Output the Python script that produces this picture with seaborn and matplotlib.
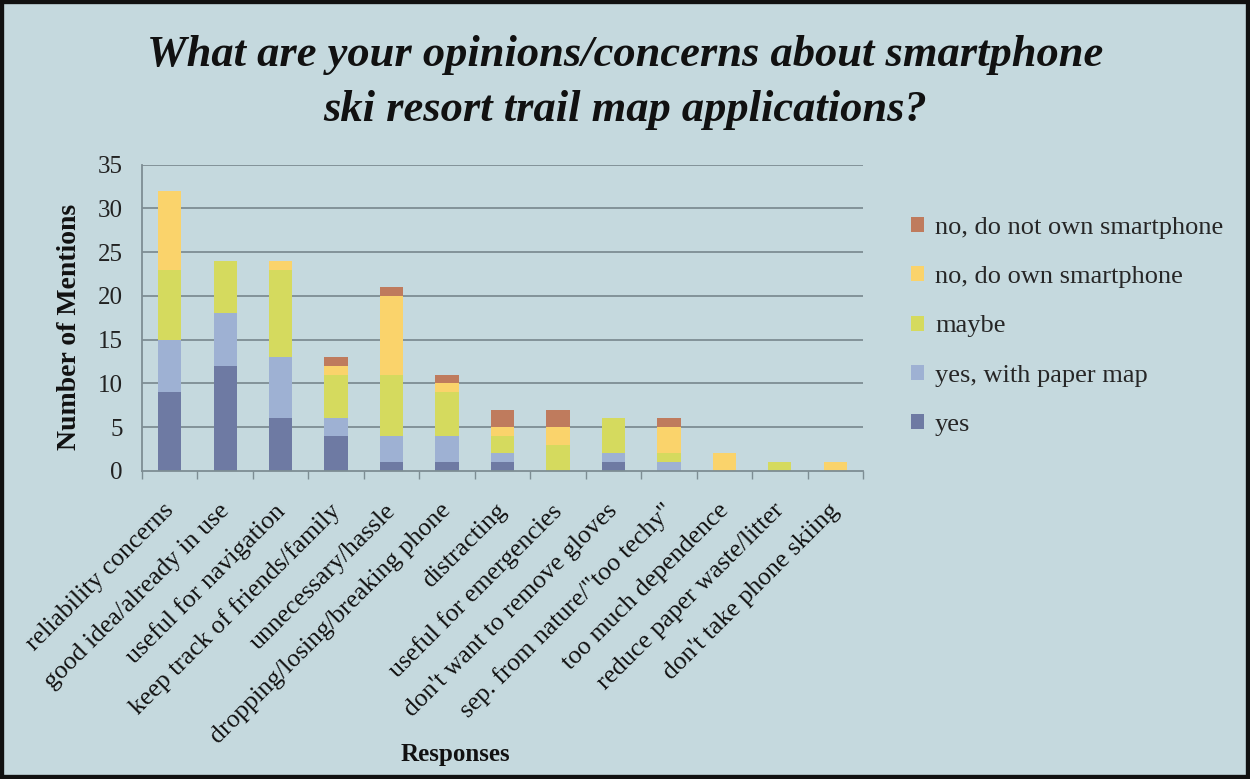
import matplotlib
matplotlib.use("Agg")
import matplotlib.pyplot as plt
from matplotlib.patches import Patch, Rectangle
from matplotlib.transforms import ScaledTranslation
import seaborn as sns
import pandas as pd
import numpy as np

# Survey responses (x categories)
categories = [
    "reliability concerns",
    "good idea/already in use",
    "useful for navigation",
    "keep track of friends/family",
    "unnecessary/hassle",
    "dropping/losing/breaking phone",
    "distracting",
    "useful for emergencies",
    "don't want to remove gloves",
    "sep. from nature/\"too techy\"",
    "too much dependence",
    "reduce paper waste/litter",
    "don't take phone skiing",
]

# Number of mentions per respondent group (stacked bottom to top)
yes = [9, 12, 6, 4, 1, 1, 1, 0, 1, 0, 0, 0, 0]
yes_paper_map = [6, 6, 7, 2, 3, 3, 1, 0, 1, 1, 0, 0, 0]
maybe = [8, 6, 10, 5, 7, 5, 2, 3, 4, 1, 0, 1, 0]
no_own_smartphone = [9, 0, 1, 1, 9, 1, 1, 2, 0, 3, 2, 0, 1]
no_not_own_smartphone = [0, 0, 0, 1, 1, 1, 2, 2, 0, 1, 0, 0, 0]

series_names = ["yes", "yes, with paper map", "maybe",
                "no, do own smartphone", "no, do not own smartphone"]
series_values = [yes, yes_paper_map, maybe, no_own_smartphone, no_not_own_smartphone]
series_colors = ["#6E7AA3", "#9EB1D3", "#D5DA5E", "#FAD36B", "#BF7B5D"]

y_ticks = [0, 5, 10, 15, 20, 25, 30, 35]

bg = "#C5D9DE"
grid_col = "#7D8D93"
serif = "Liberation Serif"

sns.set_theme(style="white")
plt.rcParams["font.family"] = [serif, "DejaVu Serif"]

# Long table with the cumulative height of each stack level
rows = []
cum = np.zeros(len(categories))
for name, vals in zip(series_names, series_values):
    cum = cum + np.array(vals, dtype=float)
    for cat, v, c in zip(categories, vals, cum):
        rows.append({"response": cat, "group": name, "value": v, "top": c})
df = pd.DataFrame(rows)

fig = plt.figure(figsize=(12.5, 7.79), dpi=100, facecolor=bg)
ax = fig.add_axes([0.1136, 0.3954, 0.5768, 0.3934], facecolor=bg)

for y in y_ticks[1:]:
    ax.axhline(y, color=grid_col, lw=1.3, zorder=0)

# Draw the stack from the top level down so each lower level covers the one above
for name, color in reversed(list(zip(series_names, series_colors))):
    sub = df[df["group"] == name]
    sns.barplot(data=sub, x="response", y="top", order=categories, color=color,
                saturation=1, width=0.42, errorbar=None, ax=ax, zorder=2,
                linewidth=0)

ax.set_ylim(0, 35)
ax.set_xlim(-0.5, len(categories) - 0.5)
ax.set_yticks(y_ticks)
ax.set_xticks(range(len(categories)))
ax.set_xticks(np.arange(-0.5, len(categories), 1.0), minor=True)
ax.tick_params(axis="x", which="major", length=0, pad=4)
ax.tick_params(axis="x", which="minor", length=6, width=1, color=grid_col,
               direction="out", bottom=True)
ax.tick_params(axis="y", which="major", length=6, width=1, color=grid_col,
               direction="out", pad=8)

ax.set_yticklabels([str(t) for t in y_ticks], fontsize=18, family=serif, color="#222222")
ax.set_xticklabels(categories, rotation=45, ha="right", va="top",
                   rotation_mode="anchor", fontsize=18.5, family=serif, color="#111111")
# Push the slanted category labels a little below the axis line
offset = ScaledTranslation(-7 / 100, -23 / 100, fig.dpi_scale_trans)
for lbl in ax.get_xticklabels():
    lbl.set_transform(lbl.get_transform() + offset)

for side in ["top", "right"]:
    ax.spines[side].set_visible(False)
for side in ["left", "bottom"]:
    ax.spines[side].set_color(grid_col)
    ax.spines[side].set_linewidth(1.3)

ax.set_xlabel("")
ax.set_ylabel("")
fig.text(0.056, 0.58, "Number of Mentions", rotation=90, ha="center", va="center",
         fontsize=20, fontweight="bold", family=serif, color="#111111")
fig.text(0.364, 0.031, "Responses", ha="center", va="center",
         fontsize=18, fontweight="bold", family=serif, color="#111111")

fig.text(0.5, 0.93, "What are your opinions/concerns about smartphone",
         ha="center", va="center", fontsize=32, fontstyle="italic",
         fontweight="bold", family=serif, color="#111111")
fig.text(0.5, 0.859, "ski resort trail map applications?",
         ha="center", va="center", fontsize=32, fontstyle="italic",
         fontweight="bold", family=serif, color="#111111")

handles = [Patch(facecolor=c, edgecolor="none", label=n)
           for n, c in reversed(list(zip(series_names, series_colors)))]
fig.legend(handles=handles, loc="center left", bbox_to_anchor=(0.71, 0.581),
           frameon=False, handlelength=0.5, handleheight=0.5,
           handletextpad=0.4, labelspacing=1.03,
           prop={"family": serif, "size": 19})

fig.patches.append(Rectangle((0, 0), 1, 1, transform=fig.transFigure, fill=False,
                             edgecolor="#111111", lw=6, zorder=10))

fig.savefig("out.png", dpi=100, facecolor=bg)
